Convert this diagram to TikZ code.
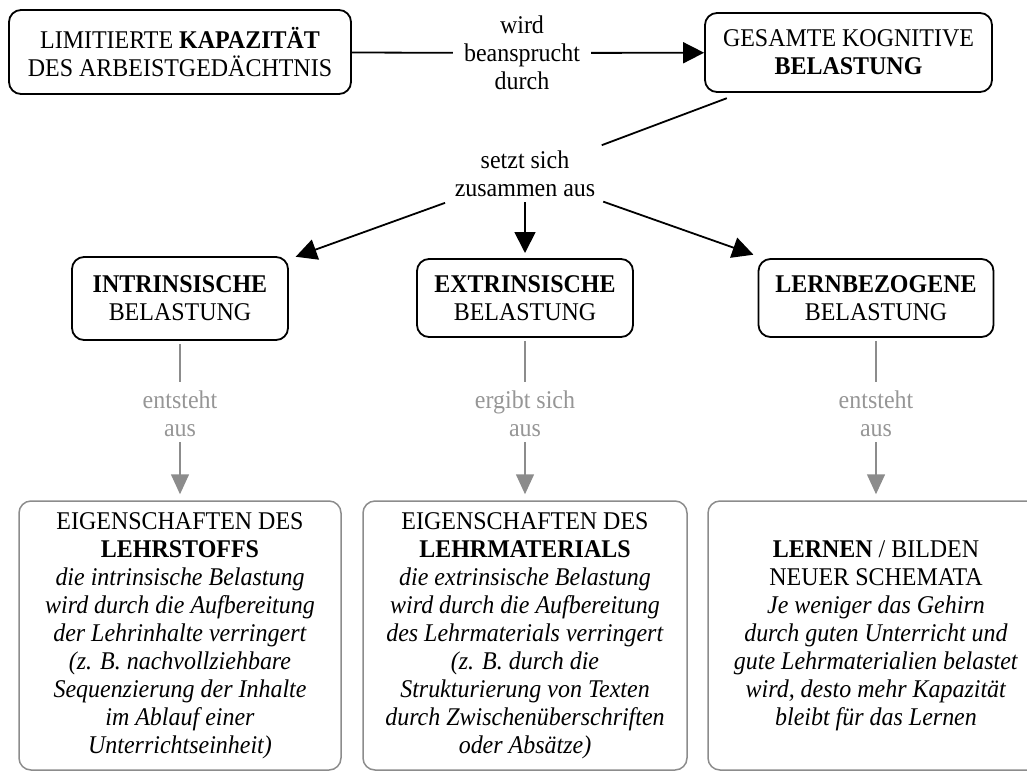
\documentclass[tikz,border=0pt]{standalone}
\usepackage{fontspec}
\setmainfont{Liberation Serif}[FakeStretch=0.94]
\usetikzlibrary{arrows.meta}
\definecolor{linegray}{RGB}{140,140,140}
\definecolor{textgray}{RGB}{150,150,150}
\begin{document}
\begin{tikzpicture}[x=1pt,y=-1pt,
  every node/.style={font=\fontsize{25.5}{28}\selectfont, align=center},
  topbox/.style={draw=black, line width=1.8pt, rounded corners=12pt, inner sep=0pt},
  srcbox/.style={draw=linegray, line width=1.5pt, rounded corners=12pt, inner sep=0pt},
  link/.style={line width=1.8pt},
  blackarrow/.style={link, -{Triangle[length=21pt,width=21pt]}},
  softlink/.style={draw=linegray, line width=1.5pt},
  softarrow/.style={softlink, -{Triangle[length=20pt,width=18pt]}},
  relation/.style={inner sep=0pt},
  softrelation/.style={text=textgray, inner sep=0pt}]
\useasboundingbox (0,0) rectangle (1027,774);
\clip (0,0) rectangle (1027,774);

% top row
\node[topbox, minimum width=342pt, minimum height=84pt] (lim) at (180,52)
  {LIMITIERTE \textbf{KAPAZITÄT}\\DES ARBEISTGEDÄCHTNIS};
\node[topbox, minimum width=287pt, minimum height=79pt] (ges) at (848.5,52.5)
  {GESAMTE KOGNITIVE\\\textbf{BELASTUNG}};
\node[relation, inner xsep=11pt] (wird) at (522,53) {wird\\beansprucht\\durch};
\draw[link] (lim) -- (wird);
\draw[blackarrow] (wird) -- (ges);

% composition
\node[relation] (setzt) at (525,174) {setzt sich\\zusammen aus};
\draw[link, shorten <=82pt, shorten >=130pt] (setzt.center) -- (ges.center);

% three kinds of load
\node[topbox, minimum width=216pt, minimum height=83pt] (intr) at (180,298.5)
  {\textbf{INTRINSISCHE}\\BELASTUNG};
\node[topbox, minimum width=216pt, minimum height=78pt] (extr) at (525,298)
  {\textbf{EXTRINSISCHE}\\BELASTUNG};
\node[topbox, minimum width=235pt, minimum height=78pt] (lern) at (876,298)
  {\textbf{LERNBEZOGENE}\\BELASTUNG};
\draw[blackarrow, shorten <=85pt, shorten >=123pt] (setzt.center) -- (intr.center);
\draw[blackarrow, shorten <=28pt, shorten >=45pt] (setzt.center) -- (extr.center);
\draw[blackarrow, shorten <=83pt, shorten >=130pt] (setzt.center) -- (lern.center);

% sources
\node[softrelation] (r1) at (180,414) {entsteht\\aus};
\node[softrelation] (r2) at (525,414) {ergibt sich\\aus};
\node[softrelation] (r3) at (876,414) {entsteht\\aus};

\node[srcbox, minimum width=322pt, minimum height=269pt] (b1) at (180,635.5)
  {EIGENSCHAFTEN DES\\\textbf{LEHRSTOFFS}\\
   \textit{die intrinsische Belastung}\\
   \textit{wird durch die Aufbereitung}\\
   \textit{der Lehrinhalte verringert}\\
   \textit{(z. B. nachvollziehbare}\\
   \textit{Sequenzierung der Inhalte}\\
   \textit{im Ablauf einer}\\
   \textit{Unterrichtseinheit)}};
\node[srcbox, minimum width=324pt, minimum height=269pt] (b2) at (525,635.5)
  {EIGENSCHAFTEN DES\\\textbf{LEHRMATERIALS}\\
   \textit{die extrinsische Belastung}\\
   \textit{wird durch die Aufbereitung}\\
   \textit{des Lehrmaterials verringert}\\
   \textit{(z. B. durch die}\\
   \textit{Strukturierung von Texten}\\
   \textit{durch Zwischenüberschriften}\\
   \textit{oder Absätze)}};
\node[srcbox, minimum width=336pt, minimum height=269pt] (b3) at (876,635.5)
  {\textbf{LERNEN} / BILDEN\\NEUER SCHEMATA\\
   \textit{Je weniger das Gehirn}\\
   \textit{durch guten Unterricht und}\\
   \textit{gute Lehrmaterialien belastet}\\
   \textit{wird, desto mehr Kapazität}\\
   \textit{bleibt für das Lernen}};

\draw[softlink, shorten <=3pt, shorten >=32pt] (intr) -- (r1.center);
\draw[softlink, shorten <=3pt, shorten >=32pt] (extr) -- (r2.center);
\draw[softlink, shorten <=3pt, shorten >=32pt] (lern) -- (r3.center);
\draw[softarrow, shorten <=28pt, shorten >=6pt] (r1.center) -- (b1);
\draw[softarrow, shorten <=28pt, shorten >=6pt] (r2.center) -- (b2);
\draw[softarrow, shorten <=28pt, shorten >=6pt] (r3.center) -- (b3);
\end{tikzpicture}
\end{document}
